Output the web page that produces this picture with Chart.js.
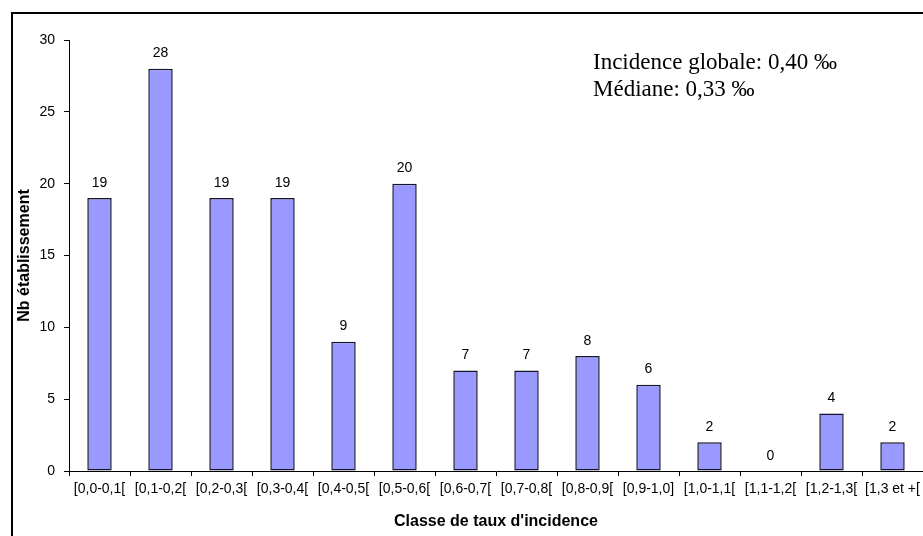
<!DOCTYPE html>
<html lang="fr">
<head>
<meta charset="utf-8">
<title>Classe de taux d'incidence</title>
<script src="https://cdn.jsdelivr.net/npm/chart.js@4/dist/chart.umd.min.js"></script>
<style>
  html, body { margin: 0; padding: 0; background: #fff; overflow: hidden; width: 923px; height: 536px; }
  #wrap { position: relative; width: 923px; height: 536px; overflow: hidden; }
  #frame { position: absolute; left: 11px; top: 12px; width: 2000px; height: 2000px;
           border-left: 2px solid #000; border-top: 2px solid #000; box-sizing: border-box; }
  canvas { position: absolute; left: 0; top: 0; }
</style>
</head>
<body>
<div id="wrap">
  <div id="frame"></div>
  <canvas id="chart" width="1000" height="536"></canvas>
</div>
<script>
// Classes of incidence rate (‰) and number of establishments in each
const categories = ['[0,0-0,1[', '[0,1-0,2[', '[0,2-0,3[', '[0,3-0,4[', '[0,4-0,5[', '[0,5-0,6[',
  '[0,6-0,7[', '[0,7-0,8[', '[0,8-0,9[', '[0,9-1,0]', '[1,0-1,1[', '[1,1-1,2[', '[1,2-1,3[', '[1,3 et +['];
const counts = [19, 28, 19, 19, 9, 20, 7, 7, 8, 6, 2, 0, 4, 2];
const yTicks = [0, 5, 10, 15, 20, 25, 30];
const summaryLines = ['Incidence globale: 0,40 ‰', 'Médiane: 0,33 ‰'];

const SANS = '"Liberation Sans", Arial, sans-serif';
const SERIF = '"Liberation Serif", "Times New Roman", serif';
Chart.defaults.color = '#000';
Chart.defaults.font.family = SANS;

// value written above each bar
const barValues = {
  id: 'barValues',
  afterDatasetsDraw(chart) {
    const ctx = chart.ctx;
    const meta = chart.getDatasetMeta(0);
    ctx.save();
    ctx.font = '14px ' + SANS;
    ctx.fillStyle = '#000';
    ctx.textAlign = 'center';
    ctx.textBaseline = 'alphabetic';
    meta.data.forEach((bar, i) => {
      ctx.fillText(String(chart.data.datasets[0].data[i]), bar.x, bar.y - 11.5);
    });
    ctx.restore();
  }
};

// summary figures in the upper right
const summaryText = {
  id: 'summaryText',
  afterDraw(chart) {
    const ctx = chart.ctx;
    ctx.save();
    ctx.font = '23px ' + SERIF;
    ctx.fillStyle = '#000';
    ctx.textAlign = 'left';
    ctx.textBaseline = 'alphabetic';
    summaryLines.forEach((line, i) => ctx.fillText(line, 593, 69 + i * 27));
    ctx.restore();
  }
};

new Chart(document.getElementById('chart'), {
  type: 'bar',
  data: {
    labels: categories,
    datasets: [{
      data: counts,
      backgroundColor: '#9999FF',
      borderColor: '#141428',
      borderWidth: 1.5,
      borderSkipped: false,
      inflateAmount: 0,
      categoryPercentage: 1,
      barPercentage: 0.4
    }]
  },
  options: {
    responsive: false,
    devicePixelRatio: 1,
    animation: false,
    layout: { padding: { top: 40, right: 77, bottom: 0, left: 0 } },
    plugins: { legend: { display: false }, tooltip: { enabled: false } },
    scales: {
      x: {
        grid: { display: true, drawOnChartArea: false, drawTicks: true, tickLength: 5, color: '#000', offset: true },
        border: { display: true, color: '#000', width: 1 },
        ticks: { font: { size: 14, family: SANS }, padding: 5, autoSkip: false, maxRotation: 0, minRotation: 0 },
        title: { display: true, text: "Classe de taux d'incidence",
                 font: { size: 16, weight: 'bold', family: SANS }, padding: { top: 0, bottom: 5 } },
        afterFit(scale) { scale.height = 65; }
      },
      y: {
        min: 0, max: 30,
        afterBuildTicks(scale) { scale.ticks = yTicks.map(v => ({ value: v })); },
        grid: { display: true, drawOnChartArea: false, drawTicks: true, tickLength: 5, color: '#000' },
        border: { display: true, color: '#000', width: 1 },
        ticks: { font: { size: 14, family: SANS }, padding: 9 },
        title: { display: true, text: 'Nb établissement',
                 font: { size: 16, weight: 'bold', family: SANS }, padding: { top: 15, bottom: 0 } },
        afterFit(scale) { scale.width = 69; }
      }
    }
  },
  plugins: [barValues, summaryText]
});
</script>
</body>
</html>
